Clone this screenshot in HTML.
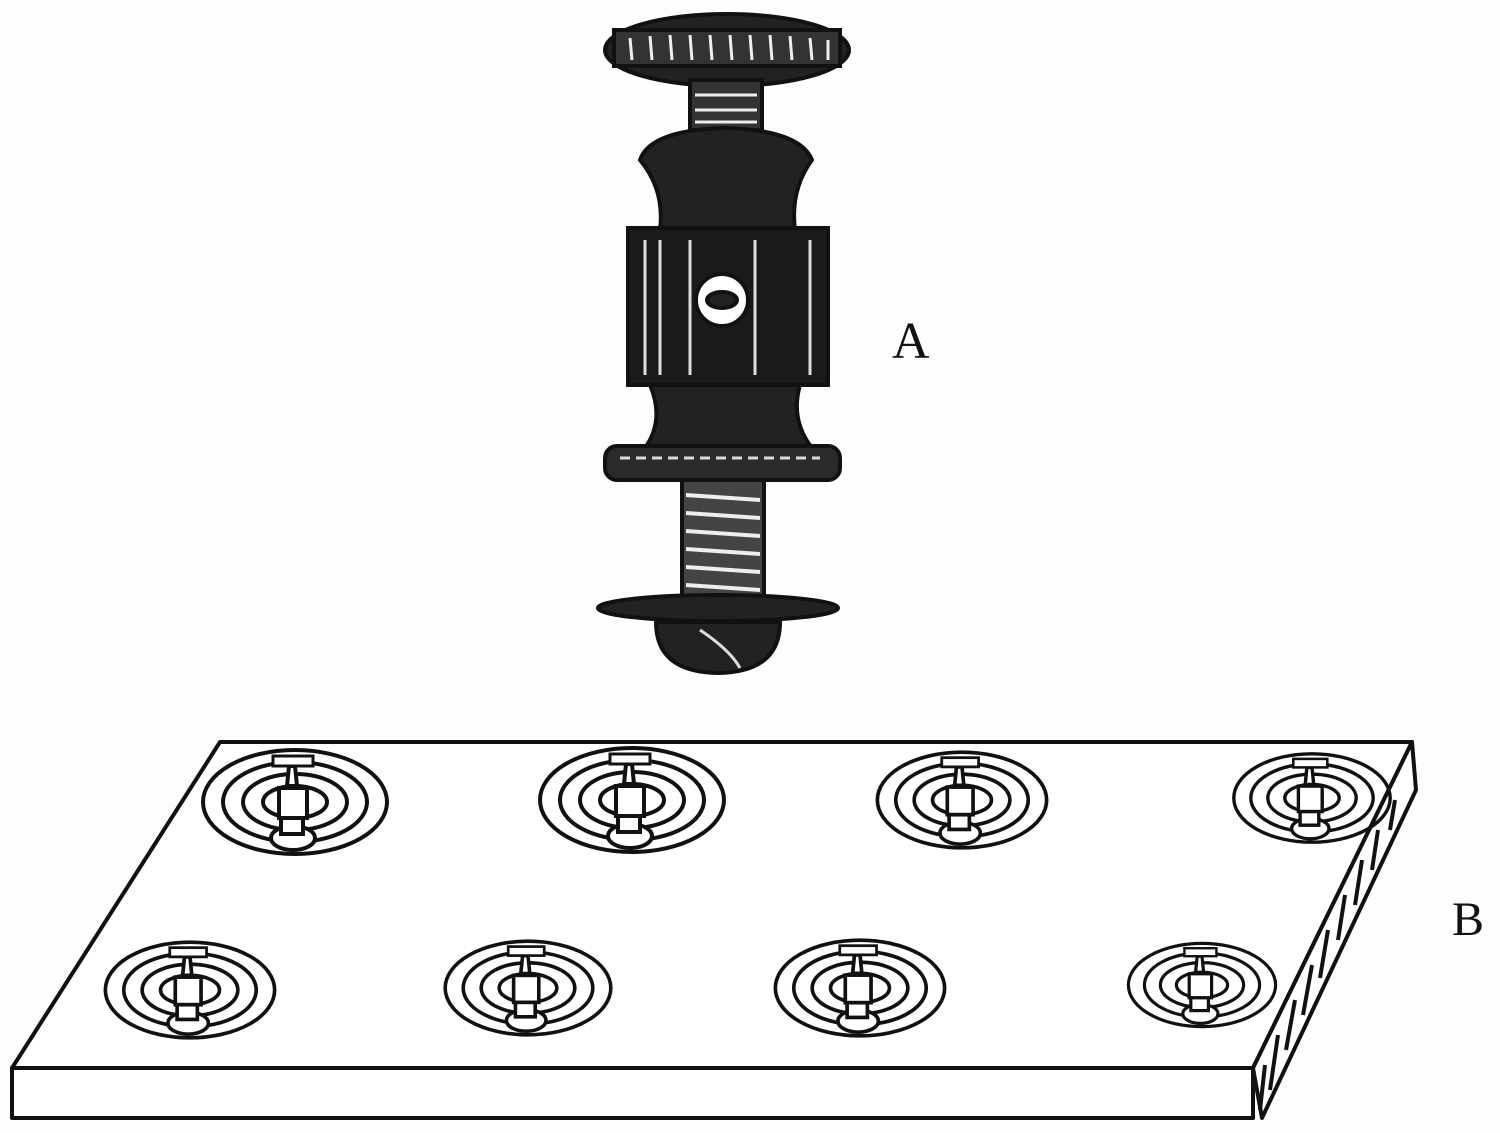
<!DOCTYPE html>
<html><head><meta charset="utf-8"><style>html,body{margin:0;padding:0;background:#fff}svg{display:block}</style></head>
<body>
<svg width="1500" height="1133" viewBox="0 0 1500 1133" xmlns="http://www.w3.org/2000/svg">
<rect width="1500" height="1133" fill="#fdfdfd"/>
<!-- Screw A -->
<g stroke="#111" stroke-width="4">
  <ellipse cx="727" cy="50" rx="122" ry="36" fill="#222"/>
  <rect x="614" y="30" width="226" height="36" fill="#333"/>
  <g stroke="#eee" stroke-width="3">
    <line x1="630" y1="38" x2="632" y2="60"/><line x1="650" y1="36" x2="652" y2="60"/><line x1="670" y1="35" x2="672" y2="60"/><line x1="690" y1="35" x2="692" y2="60"/><line x1="710" y1="35" x2="712" y2="60"/><line x1="730" y1="35" x2="732" y2="60"/><line x1="750" y1="35" x2="752" y2="60"/><line x1="770" y1="35" x2="772" y2="60"/><line x1="790" y1="36" x2="792" y2="60"/><line x1="810" y1="38" x2="812" y2="60"/><line x1="828" y1="40" x2="828" y2="60"/>
  </g>
  <rect x="690" y="80" width="72" height="50" fill="#333"/>
  <g stroke="#eee" stroke-width="3"><line x1="695" y1="95" x2="757" y2="95"/><line x1="695" y1="110" x2="757" y2="110"/><line x1="695" y1="122" x2="757" y2="122"/></g>
  <path d="M640 160 Q650 130 725 128 Q800 130 812 160 Q790 190 795 230 L660 230 Q665 190 640 160 Z" fill="#222"/>
  <rect x="628" y="228" width="200" height="157" fill="#1a1a1a"/>
  <g stroke="#ddd" stroke-width="3"><line x1="645" y1="240" x2="645" y2="375"/><line x1="660" y1="240" x2="660" y2="375"/><line x1="690" y1="240" x2="690" y2="375"/><line x1="755" y1="240" x2="755" y2="375"/><line x1="810" y1="240" x2="810" y2="375"/></g>
  <circle cx="722" cy="300" r="26" fill="#fff"/>
  <ellipse cx="722" cy="300" rx="15" ry="8" fill="#222"/>
  <path d="M650 385 L800 385 Q790 420 812 448 L645 448 Q665 420 650 385 Z" fill="#222"/>
  <rect x="605" y="446" width="235" height="34" rx="12" fill="#2a2a2a"/>
  <line x1="620" y1="458" x2="820" y2="458" stroke="#ddd" stroke-width="3" stroke-dasharray="10 6"/>
  <rect x="682" y="480" width="82" height="118" fill="#444"/>
  <g stroke="#eee" stroke-width="4"><line x1="686" y1="495" x2="760" y2="500"/><line x1="686" y1="513" x2="760" y2="518"/><line x1="686" y1="531" x2="760" y2="536"/><line x1="686" y1="549" x2="760" y2="554"/><line x1="686" y1="567" x2="760" y2="572"/><line x1="686" y1="585" x2="760" y2="590"/></g>
  <ellipse cx="718" cy="608" rx="120" ry="13" fill="#222"/>
  <path d="M656 622 L780 622 Q780 672 718 673 Q656 672 656 622 Z" fill="#222"/>
  <path d="M700 630 Q730 650 740 668" stroke="#ddd" stroke-width="3" fill="none"/>
</g>
<text x="892" y="358" font-family="Liberation Serif, serif" font-size="52" fill="#111">A</text>
<text x="1452" y="935" font-family="Liberation Serif, serif" font-size="48" fill="#111">B</text>
<!-- Board -->
<g stroke="#111" stroke-width="4" fill="#fff" stroke-linejoin="round">
  <polygon points="220,742 1412,742 1253,1068 12,1068"/>
  <rect x="12" y="1068" width="1241" height="50"/>
  <polygon points="1412,742 1416,790 1262,1118 1253,1068"/>
</g>
<g stroke="#111" stroke-width="4">
  <line x1="1395" y1="800" x2="1390" y2="830"/><line x1="1378" y1="830" x2="1372" y2="870"/><line x1="1362" y1="860" x2="1355" y2="905"/><line x1="1345" y1="895" x2="1338" y2="940"/><line x1="1328" y1="930" x2="1320" y2="978"/><line x1="1312" y1="965" x2="1303" y2="1015"/><line x1="1295" y1="1000" x2="1286" y2="1050"/><line x1="1278" y1="1035" x2="1270" y2="1090"/><line x1="1265" y1="1065" x2="1260" y2="1110"/>
</g>
<!-- Coils -->
<defs>
<g id="coil">
  <g fill="none" stroke="#111" stroke-width="4">
    <ellipse cx="0" cy="0" rx="92" ry="52"/>
    <ellipse cx="0" cy="0" rx="72" ry="40"/>
    <ellipse cx="0" cy="0" rx="52" ry="28"/>
    <ellipse cx="0" cy="0" rx="32" ry="16"/>
  </g>
  <rect x="-16" y="-14" width="28" height="30" fill="#fff" stroke="#111" stroke-width="4"/>
  <polygon points="-8,-16 2,-16 0,-36 -6,-36" fill="#fff" stroke="#111" stroke-width="4"/>
  <rect x="-22" y="-46" width="40" height="10" fill="#fff" stroke="#111" stroke-width="3"/>
  <ellipse cx="-2" cy="36" rx="22" ry="12" fill="#fff" stroke="#111" stroke-width="4"/>
  <rect x="-14" y="16" width="22" height="16" fill="#fff" stroke="#111" stroke-width="4"/>
</g>
</defs>
<use href="#coil" transform="translate(295,802)"/>
<use href="#coil" transform="translate(632,800)"/>
<use href="#coil" transform="translate(962,800) scale(0.92)"/>
<use href="#coil" transform="translate(1312,798) scale(0.85)"/>
<use href="#coil" transform="translate(190,990) scale(0.92)"/>
<use href="#coil" transform="translate(528,988) scale(0.9)"/>
<use href="#coil" transform="translate(860,988) scale(0.92)"/>
<use href="#coil" transform="translate(1202,985) scale(0.8)"/>
</svg>
</body></html>
